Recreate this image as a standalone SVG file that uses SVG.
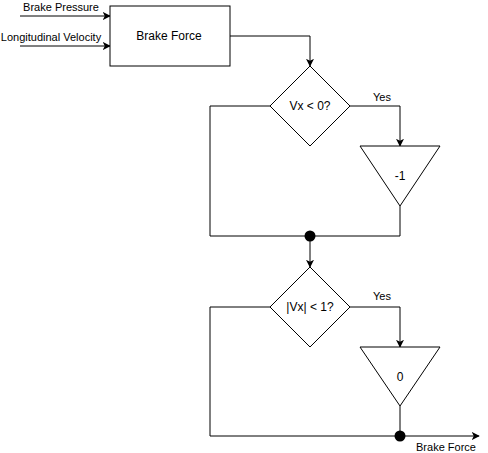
<svg xmlns="http://www.w3.org/2000/svg" width="488" height="453" viewBox="0 0 488 453">
<defs>
<style>
.s{fill:#fff;stroke:#000;stroke-width:1}
.c{fill:none;stroke:#000;stroke-width:1}
text{font-family:"Liberation Sans",Arial,sans-serif;fill:#000}
.m{text-anchor:middle;dominant-baseline:central;font-size:12px}
.l{text-anchor:middle;font-size:11px}
</style>
<marker id="a" viewBox="0 0 10 10" refX="9" refY="5" markerWidth="8" markerHeight="8" markerUnits="userSpaceOnUse" orient="auto">
<path d="M0,0 L10,5 L0,10 L2.5,5 Z" fill="#000"/>
</marker>
</defs>
<rect width="488" height="453" fill="#fff"/>
<g id="connectors">
<path class="c" d="M20,16 H110" marker-end="url(#a)"/>
<path class="c" d="M20,46 H110" marker-end="url(#a)"/>
<path class="c" d="M230,36 H310 V66" marker-end="url(#a)"/>
<path class="c" d="M350,106 H400 V146" marker-end="url(#a)"/>
<path class="c" d="M270,106 H210 V236 H400 V206"/>
<path class="c" d="M310,236 V267" marker-end="url(#a)"/>
<path class="c" d="M350,307 H400 V347" marker-end="url(#a)"/>
<path class="c" d="M270,307 H210 V436 H400 V406"/>
<path class="c" d="M400,436 H479" marker-end="url(#a)"/>
<circle cx="310" cy="236" r="5.5" fill="#000"/>
<circle cx="400" cy="436" r="5.5" fill="#000"/>
<text class="l" x="61" y="11">Brake Pressure</text>
<text class="l" x="51" y="41">Longitudinal Velocity</text>
<text class="l" x="382" y="101">Yes</text>
<text class="l" x="382" y="300">Yes</text>
<text class="l" x="446" y="451">Brake Force</text>
</g>
<g id="brake-force">
<rect class="s" x="110" y="6" width="120" height="60"/>
<text class="m" x="169" y="36">Brake Force</text>
</g>
<g id="decision1">
<path class="s" d="M310,66 L350,106 L310,146 L270,106 Z"/>
<text class="m" x="310" y="106">Vx &lt; 0?</text>
</g>
<g id="gain1">
<path class="s" d="M360,146 H440 L400,206 Z"/>
<text class="m" x="400" y="176">-1</text>
</g>
<g id="decision2">
<path class="s" d="M310,267 L350,307 L310,347 L270,307 Z"/>
<text class="m" x="310" y="307">|Vx| &lt; 1?</text>
</g>
<g id="gain2">
<path class="s" d="M360,347 H440 L400,406 Z"/>
<text class="m" x="400" y="377">0</text>
</g>
</svg>
